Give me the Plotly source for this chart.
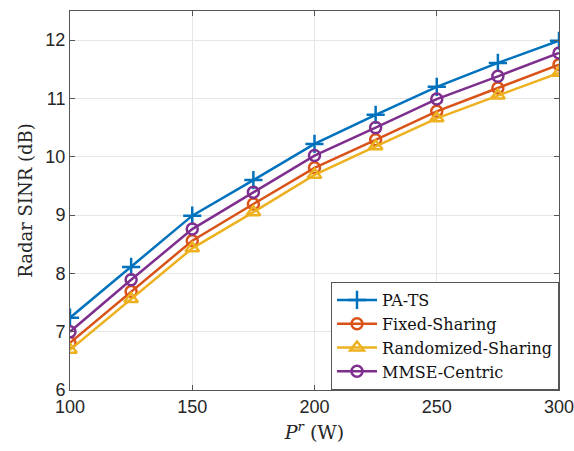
import plotly.graph_objects as go

power = [100, 125, 150, 175, 200, 225, 250, 275, 300]
pa_ts = [7.24, 8.11, 8.99, 9.60, 10.22, 10.72, 11.20, 11.61, 11.99]
fixed_sharing = [6.81, 7.69, 8.56, 9.19, 9.81, 10.29, 10.78, 11.18, 11.58]
randomized_sharing = [6.69, 7.56, 8.43, 9.05, 9.69, 10.18, 10.66, 11.05, 11.44]
mmse_centric = [7.00, 7.89, 8.76, 9.39, 10.02, 10.50, 10.99, 11.38, 11.78]

series = [
    ("PA-TS", pa_ts, "#0072BD", "cross-thin-open", 13),
    ("Fixed-Sharing", fixed_sharing, "#D95319", "circle-open", 11),
    ("Randomized-Sharing", randomized_sharing, "#EDB120", "triangle-up-open", 12),
    ("MMSE-Centric", mmse_centric, "#7E2F8E", "circle-open", 11),
]

fig = go.Figure()
for name, vals, color, sym, size in series:
    fig.add_trace(go.Scatter(
        x=power, y=vals, name=name, mode="lines+markers",
        line=dict(color=color, width=2.5),
        marker=dict(symbol=sym, size=size, color=color, line=dict(color=color, width=2.5)),
    ))

serif = "DejaVu Serif"
axis_common = dict(
    showgrid=True, gridcolor="#e6e6e6", gridwidth=1,
    showline=True, linecolor="#555555", linewidth=1, mirror="ticks",
    ticks="inside", ticklen=5, tickcolor="#555555",
    tickfont=dict(family="Liberation Sans", size=18, color="#262626"),
    zeroline=False, ticklabeloverflow="allow", automargin=False,
)

fig.update_layout(
    width=574, height=451,
    margin=dict(l=70, r=15, t=11, b=61),
    paper_bgcolor="white", plot_bgcolor="white",
    xaxis=dict(range=[100, 300], tickvals=[100, 150, 200, 250, 300],
               title=dict(text="<i>P</i><sup><i>r</i></sup> (W)", standoff=10,
                          font=dict(family=serif, size=19, color="#262626")),
               **axis_common),
    yaxis=dict(range=[6, 12.5], tickvals=[6, 7, 8, 9, 10, 11, 12],
               title=dict(text="Radar SINR (dB)", standoff=8,
                          font=dict(family=serif, size=18, color="#262626")),
               **axis_common),
    legend=dict(x=1, y=0, xanchor="right", yanchor="bottom",
                bgcolor="white", bordercolor="#555555", borderwidth=1,
                font=dict(family=serif, size=16, color="#111111"),
                tracegroupgap=0, itemwidth=40),
    showlegend=True,
)

fig.write_html("out.html")
